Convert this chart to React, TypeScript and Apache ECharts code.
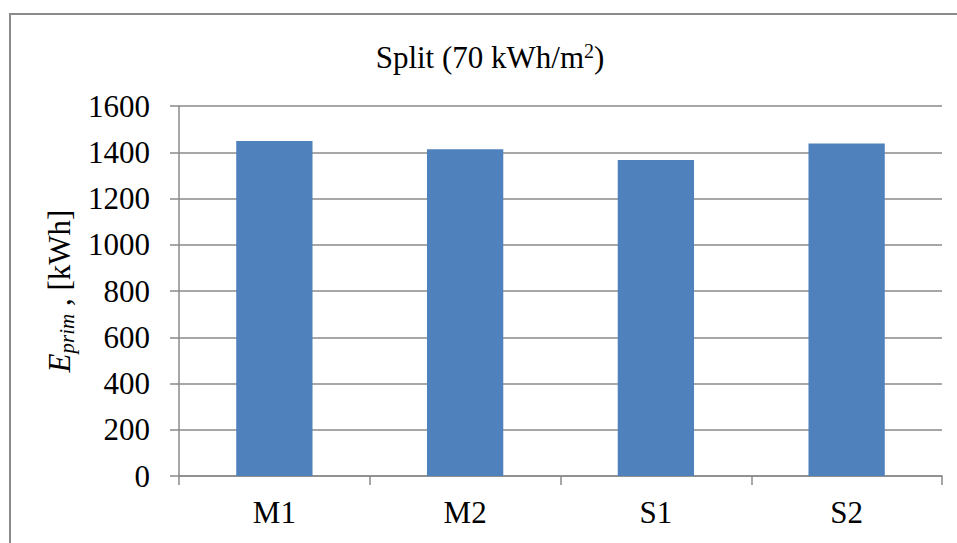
import React, { useEffect, useRef } from "react";
import * as echarts from "echarts";

const categories: string[] = ["M1", "M2", "S1", "S2"];
const values: number[] = [1449, 1413, 1367, 1438];
const yTicks: number[] = [0, 200, 400, 600, 800, 1000, 1200, 1400, 1600];

const FONT = "'Liberation Serif', 'Times New Roman', serif";
const GRAY = "#8a8a8a";
const FS = 31;

export default function App() {
  const ref = useRef<HTMLDivElement>(null);
  useEffect(() => {
    if (!ref.current) return;
    const chart = echarts.init(ref.current, undefined, { renderer: "svg" });
    chart.setOption({
      animation: false,
      backgroundColor: "#ffffff",
      textStyle: { fontFamily: FONT },
      grid: { left: 179, top: 106, right: 15, bottom: 67, containLabel: false },
      graphic: [
        {
          type: "rect",
          shape: { x: 10, y: 14, width: 1000, height: 600 },
          style: { fill: "none", stroke: GRAY, lineWidth: 2 },
          silent: true,
        },
        {
          type: "text",
          x: 490,
          y: 57,
          style: {
            text: "Split (70 kWh/m{sup|2})",
            fontFamily: FONT,
            fontSize: FS,
            fill: "#000",
            align: "center",
            verticalAlign: "middle",
            rich: {
              sup: { fontSize: 20, fontFamily: FONT, verticalAlign: "top", lineHeight: 32, fill: "#000" },
            },
          },
        },
      ],
      xAxis: {
        type: "category",
        data: categories,
        axisLine: { lineStyle: { color: GRAY, width: 1.5 } },
        axisTick: { show: true, length: 9, lineStyle: { color: GRAY, width: 1.5 } },
        axisLabel: { color: "#000", fontSize: FS, fontFamily: FONT, margin: 21 },
      },
      yAxis: {
        type: "value",
        min: yTicks[0],
        max: yTicks[yTicks.length - 1],
        interval: 200,
        axisLine: { show: true, lineStyle: { color: GRAY, width: 1.5 } },
        axisTick: { show: true, length: 9, lineStyle: { color: GRAY, width: 1.5 } },
        splitLine: { show: true, lineStyle: { color: GRAY, width: 1.5 } },
        axisLabel: {
          color: "#000",
          fontSize: FS,
          fontFamily: FONT,
          margin: 29,
          formatter: (v: number) => String(v),
        },
        name: "{e|E}{sub|prim}{n| , [kWh]}",
        nameLocation: "middle",
        nameRotate: 90,
        nameGap: 95,
        nameTextStyle: {
          fontFamily: FONT,
          color: "#000",
          rich: {
            e: { fontStyle: "italic", fontSize: FS, fontFamily: FONT, lineHeight: 36, color: "#000" },
            sub: { fontStyle: "italic", fontSize: 21, fontFamily: FONT, lineHeight: 22, verticalAlign: "bottom", color: "#000" },
            n: { fontSize: FS, fontFamily: FONT, lineHeight: 36, color: "#000" },
          },
        },
      },
      series: [
        {
          type: "bar",
          data: values,
          barWidth: "40%",
          itemStyle: { color: "#4F81BD" },
        },
      ],
    });
    return () => chart.dispose();
  }, []);
  return (
    <div
      ref={ref}
      style={{ position: "fixed", left: 0, top: 0, width: 957, height: 543 }}
    />
  );
}
